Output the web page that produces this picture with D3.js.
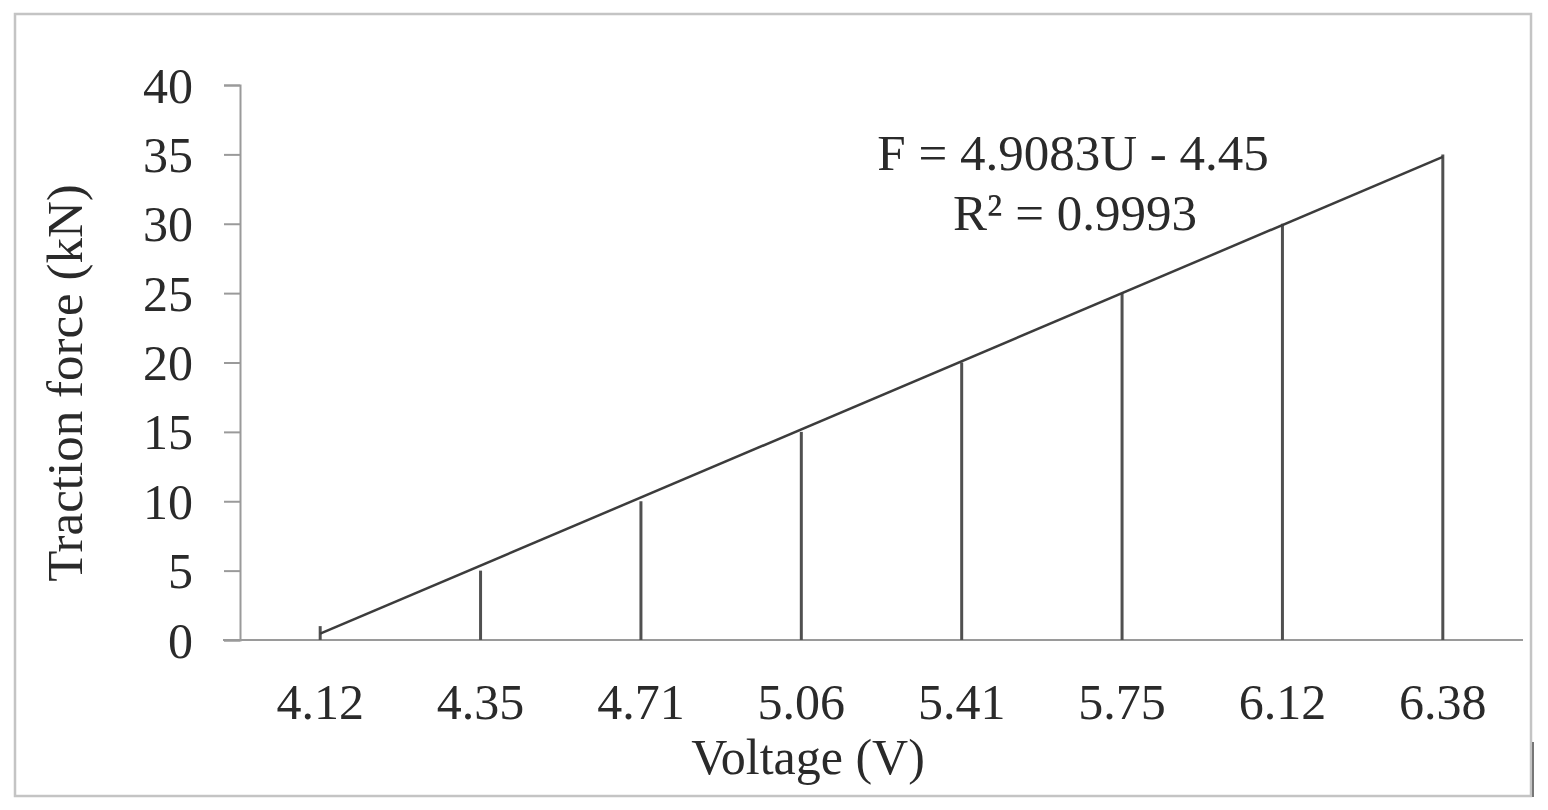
<!DOCTYPE html>
<html>
<head>
<meta charset="utf-8">
<script src="https://cdn.jsdelivr.net/npm/d3@7"></script>
<style>
  body { margin: 0; background: #fff; }
  text { font-family: "Liberation Serif", "Times New Roman", serif; fill: #2a2a2a; }
</style>
</head>
<body>
<div id="cnt"></div>
<script>
let ancho = 1548;
let largo = 810;

// datos
let voltajes = ["4.12", "4.35", "4.71", "5.06", "5.41", "5.75", "6.12", "6.38"];
let fuerza = [1, 5, 10, 15, 20, 25, 30, 35];
let ticksY = [0, 5, 10, 15, 20, 25, 30, 35, 40];
// linea de tendencia del grafico: F = 4.9083U - 4.45 (U = indice 1..8)
let pendiente = 4.9083;
let intercepto = -4.45;

let tamLetra = 50;

let svg = d3.select('#cnt')
    .append("svg")
    .attr('width', ancho)
    .attr('height', largo)

//Marco exterior
svg.append("rect")
    .attr('x', 15)
    .attr('y', 14)
    .attr('width', 1516)
    .attr('height', 782)
    .style('fill', 'none')
    .style('stroke', '#c4c4c4')
    .style('stroke-width', 2.5)

svg.append("line")
    .attr('x1', 1533).attr('x2', 1533)
    .attr('y1', 742).attr('y2', 797)
    .style('stroke', '#777')
    .style('stroke-width', 2)

let x = d3.scaleBand()
    .domain(voltajes)
    .range([240, 1523])

let y = d3.scaleLinear()
    .domain([0, 40])
    .range([640, 85])

//Eje Y
let ejeY = svg.append("g")
    .attr('transform', 'translate(240,0)')
    .call(d3.axisLeft(y).tickValues(ticksY).tickSize(16).tickPadding(31))
ejeY.select(".domain").style('stroke', '#9a9a9a').style('stroke-width', 2)
ejeY.selectAll(".tick line").style('stroke', '#9a9a9a').style('stroke-width', 2)
ejeY.selectAll(".tick text")
    .style('font-size', tamLetra + "px")
    .style('font-family', '"Liberation Serif", serif')
    .style('fill', '#2a2a2a')
    .attr('dy', '0.34em')

//Eje X
let ejeX = svg.append("g")
    .attr('transform', 'translate(0,640)')
    .call(d3.axisBottom(x).tickSize(0).tickPadding(43))
ejeX.select(".domain").remove()
ejeX.append("line")
    .attr('x1', 223).attr('x2', 1523)
    .style('stroke', '#9a9a9a')
    .style('stroke-width', 2)
ejeX.selectAll(".tick text")
    .style('font-size', tamLetra + "px")
    .style('font-family', '"Liberation Serif", serif')
    .style('fill', '#2a2a2a')
    .attr('dy', '0.71em')

//Barras (lineas verticales)
svg.selectAll(".barra")
    .data(fuerza)
    .enter()
    .append("line")
    .attr('class', 'barra')
    .attr('x1', (d, i) => x(voltajes[i]) + x.bandwidth() / 2)
    .attr('x2', (d, i) => x(voltajes[i]) + x.bandwidth() / 2)
    .attr('y1', y(0))
    .attr('y2', d => y(d))
    .style('stroke', '#505050')
    .style('stroke-width', 3)

//Tendencia
let tendencia = voltajes.map((v, i) => ({ v: v, f: pendiente * (i + 1) + intercepto }))
let primero = tendencia[0], ultimo = tendencia[tendencia.length - 1];
svg.append("line")
    .attr('x1', x(primero.v) + x.bandwidth() / 2)
    .attr('y1', y(primero.f))
    .attr('x2', x(ultimo.v) + x.bandwidth() / 2)
    .attr('y2', y(ultimo.f))
    .style('stroke', '#3c3c3c')
    .style('stroke-width', 2.5)

//Ecuacion
svg.append("text")
    .attr('x', 1073)
    .attr('y', 170)
    .attr('text-anchor', 'middle')
    .style('font-size', (tamLetra + 1) + "px")
    .text("F = 4.9083U - 4.45")
svg.append("text")
    .attr('x', 1075)
    .attr('y', 230)
    .attr('text-anchor', 'middle')
    .style('font-size', (tamLetra + 1) + "px")
    .text("R² = 0.9993")

//Titulos
svg.append("text")
    .attr('x', 808)
    .attr('y', 774)
    .attr('text-anchor', 'middle')
    .style('font-size', tamLetra + "px")
    .text("Voltage (V)")

svg.append("text")
    .attr('transform', 'translate(82,383) rotate(-90)')
    .attr('text-anchor', 'middle')
    .style('font-size', (tamLetra + 1) + "px")
    .text("Traction force (kN)")
</script>
</body>
</html>
